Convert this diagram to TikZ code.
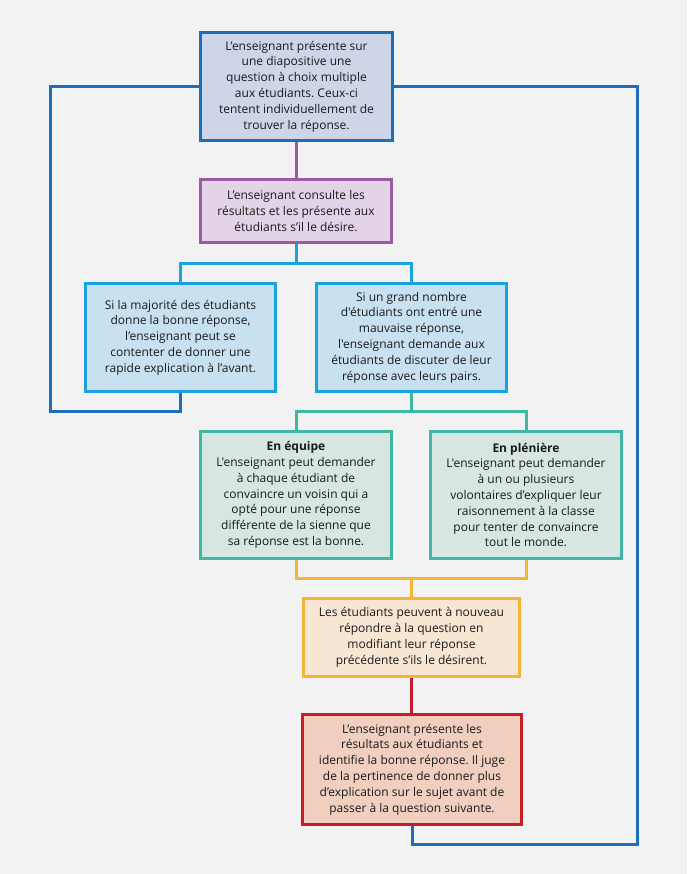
\documentclass[tikz,border=0pt]{standalone}
\usepackage{fontspec}
\setmainfont{Open Sans}[Ligatures=TeXOff]
\frenchspacing
\definecolor{bg}{HTML}{F2F2F2}
\definecolor{txt}{HTML}{1A1A1A}
\definecolor{dblue}{HTML}{1B6FBA}
\definecolor{fblue}{HTML}{CFD5E8}
\definecolor{purp}{HTML}{9B59A6}
\definecolor{fpurp}{HTML}{E2D4E6}
\definecolor{lblue}{HTML}{1AA1E0}
\definecolor{flblue}{HTML}{C8E1F1}
\definecolor{teal}{HTML}{3BB9A2}
\definecolor{fteal}{HTML}{D7E6E1}
\definecolor{orng}{HTML}{F6B33A}
\definecolor{forng}{HTML}{F6E6D3}
\definecolor{red}{HTML}{C41E2B}
\definecolor{fred}{HTML}{F0CFBF}
\begin{document}
\begin{tikzpicture}[x=1pt,y=-1pt,
  box/.style={rectangle, line width=3pt, inner sep=0pt, align=center, text=txt,
    font=\fontsize{12}{15.8}\selectfont\frenchspacing},
  conn/.style={line width=3pt},
]
\fill[bg] (0,0) rectangle (687,874);
\useasboundingbox (0,0) rectangle (687,874);
% junctions
\coordinate (j1) at (296,264);
\coordinate (j2) at (411.5,411);
\coordinate (j3) at (411.5,578);
\coordinate (l1) at (50,411);
\coordinate (l2) at (637,844);
% connectors
\draw[conn,dblue] (180.5,393) |- (l1) |- (199,86.5);
\draw[conn,dblue] (412,826) |- (l2) |- (394,86.5);
\draw[conn,purp] (296.5,142) -- (296.5,178);
\draw[conn,lblue] (296.5,244) -- (296.5,264);
\draw[conn,lblue] (180.5,282) |- (j1) -| (411.5,282);
\draw[conn,teal] (411.5,393) -- (j2);
\draw[conn,teal] (296,430) |- (j2) -| (526,430);
\draw[conn,orng] (296,560) |- (j3) -| (526,560);
\draw[conn,orng] (j3) -- (411.5,597);
\draw[conn,red] (411.5,678) -- (411.5,713);
% boxes
\node[box,draw=dblue,fill=fblue,minimum width=192pt,minimum height=108pt] (b1) at (296.5,86.5)
  {L’enseignant présente sur\\une diapositive une\\question à choix multiple\\aux étudiants. Ceux-ci\\tentent individuellement de\\trouver la réponse.};
\node[box,draw=purp,fill=fpurp,minimum width=191pt,minimum height=63pt] (b2) at (296,211)
  {L’enseignant consulte les\\résultats et les présente aux\\étudiants s’il le désire.};
\node[box,draw=lblue,fill=flblue,minimum width=190pt,minimum height=108pt] (b3) at (180.5,337.5)
  {Si la majorité des étudiants\\donne la bonne réponse,\\l’enseignant peut se\\contenter de donner une\\rapide explication à l’avant.};
\node[box,draw=lblue,fill=flblue,minimum width=190pt,minimum height=108pt] (b4) at (411.5,337.5)
  {Si un grand nombre\\d'étudiants ont entré une\\mauvaise réponse,\\l'enseignant demande aux\\étudiants de discuter de leur\\réponse avec leurs pairs.};
\node[box,draw=teal,fill=fteal,minimum width=191pt,minimum height=127pt] (b5) at (296,495)
  {\textbf{En équipe}\\L'enseignant peut demander\\à chaque étudiant de\\convaincre un voisin qui a\\opté pour une réponse\\différente de la sienne que\\sa réponse est la bonne.};
\node[box,draw=teal,fill=fteal,minimum width=191pt,minimum height=127pt] (b6) at (526,495)
  {\textbf{En plénière}\\L'enseignant peut demander\\à un ou plusieurs\\volontaires d’expliquer leur\\raisonnement à la classe\\pour tenter de convaincre\\tout le monde.};
\node[box,draw=orng,fill=forng,minimum width=216pt,minimum height=78pt] (b7) at (411.5,637.5)
  {Les étudiants peuvent à nouveau\\répondre à la question en\\modifiant leur réponse\\précédente s’ils le désirent.};
\node[box,draw=red,fill=fred,minimum width=219pt,minimum height=110pt] (b8) at (412,769.5)
  {L’enseignant présente les\\résultats aux étudiants et\\identifie la bonne réponse. Il juge\\de la pertinence de donner plus\\d’explication sur le sujet avant de\\passer à la question suivante.};
\end{tikzpicture}
\end{document}
